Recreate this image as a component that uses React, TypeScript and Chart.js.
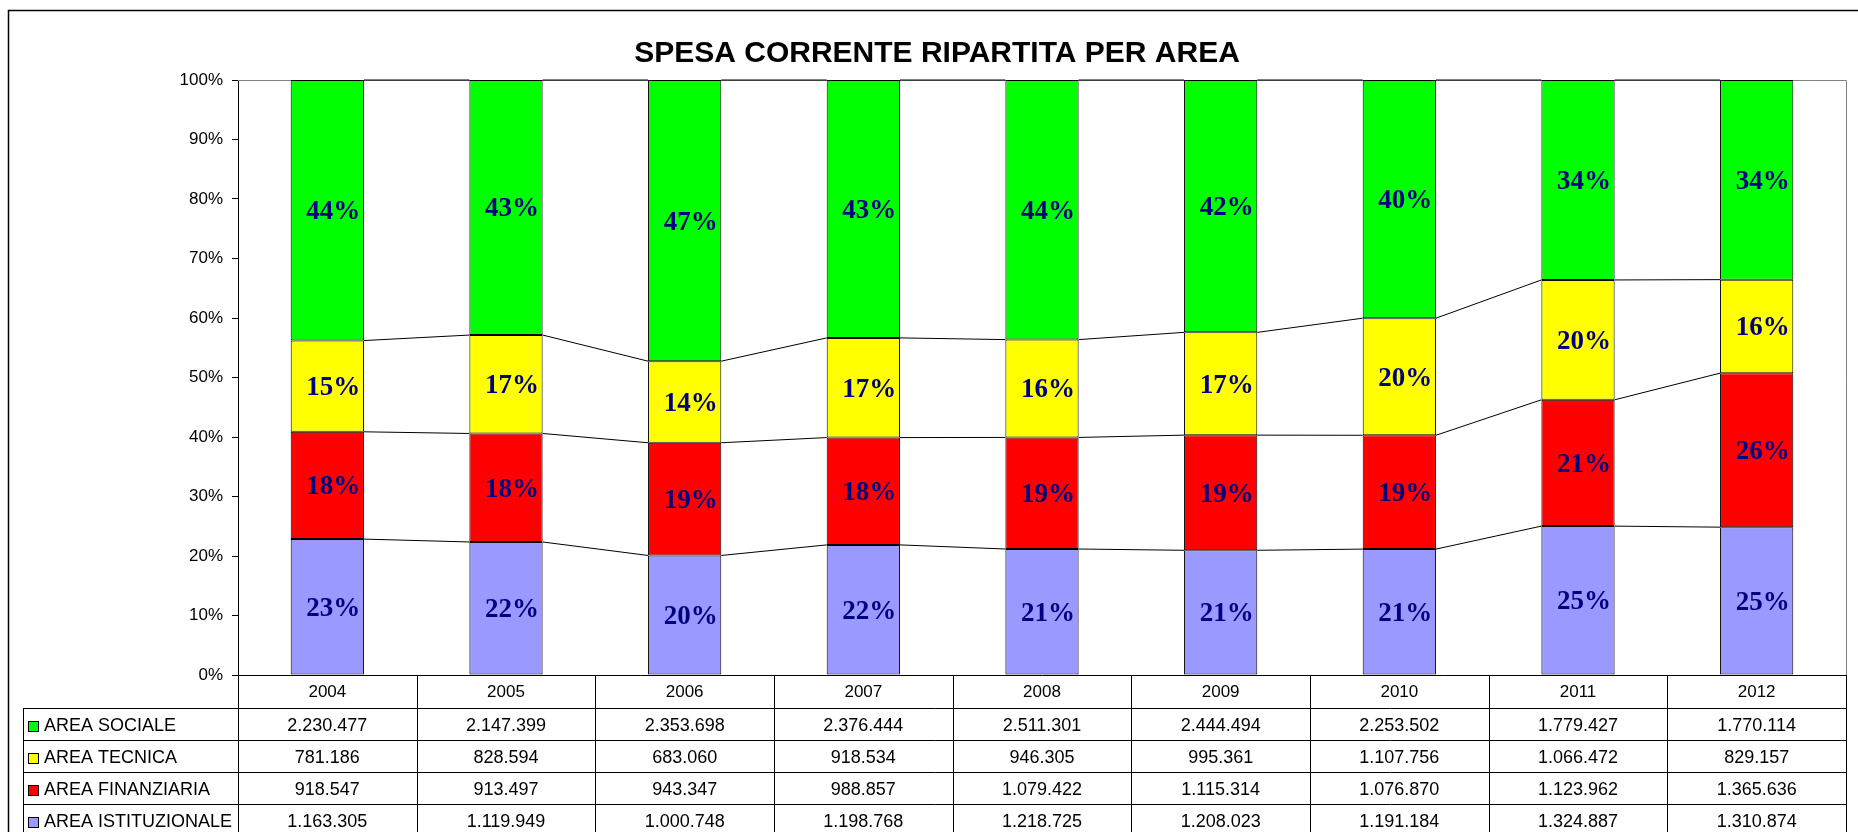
import { useEffect, useRef } from "react";
import { Chart, registerables } from "chart.js";

Chart.register(...registerables);

const TITLE = "SPESA CORRENTE RIPARTITA PER AREA";
const YEARS = ["2004", "2005", "2006", "2007", "2008", "2009", "2010", "2011", "2012"];
const SOCIALE = [2230477, 2147399, 2353698, 2376444, 2511301, 2444494, 2253502, 1779427, 1770114];
const TECNICA = [781186, 828594, 683060, 918534, 946305, 995361, 1107756, 1066472, 829157];
const FINANZIARIA = [918547, 913497, 943347, 988857, 1079422, 1115314, 1076870, 1123962, 1365636];
const ISTITUZIONALE = [1163305, 1119949, 1000748, 1198768, 1218725, 1208023, 1191184, 1324887, 1310874];
const SERIES_NAMES = ["AREA ISTITUZIONALE", "AREA FINANZIARIA", "AREA TECNICA", "AREA SOCIALE"];
const SERIES_COLORS = ["#9999FF", "#FF0000", "#FFFF00", "#00FF00"];
const SERIES_VALUES = [ISTITUZIONALE, FINANZIARIA, TECNICA, SOCIALE];

const SANS = "'Liberation Sans', Arial, sans-serif";
const SERIF = "'Liberation Serif', 'Times New Roman', serif";

const TOTALS = YEARS.map((_, j) => SERIES_VALUES.reduce((s, arr) => s + arr[j], 0));
const PERCENTS = SERIES_VALUES.map((arr) => arr.map((v, j) => (v / TOTALS[j]) * 100));

const fmt = (v: number) => String(v).replace(/\B(?=(\d{3})+(?!\d))/g, ".");

const HEADER_H = 33;
const ROW_H = 32;
const LEGEND_LEFT = 23;

const excelPlugin = {
  id: "excelExtras",
  beforeDatasetsDraw(chart: any) {
    const { ctx, chartArea: a } = chart;
    ctx.save();
    ctx.strokeStyle = "#808080";
    ctx.lineWidth = 1;
    ctx.beginPath();
    ctx.moveTo(a.left, Math.round(a.top) + 0.5);
    ctx.lineTo(Math.round(a.right) + 0.5, Math.round(a.top) + 0.5);
    ctx.lineTo(Math.round(a.right) + 0.5, a.bottom);
    ctx.stroke();
    ctx.restore();
  },
  afterDatasetsDraw(chart: any) {
    const { ctx } = chart;
    ctx.save();
    // series lines
    ctx.strokeStyle = "#000";
    ctx.lineWidth = 1;
    chart.data.datasets.forEach((_: any, d: number) => {
      const meta = chart.getDatasetMeta(d);
      for (let j = 0; j < meta.data.length - 1; j++) {
        const p = meta.data[j].getProps(["x", "y", "width"], true);
        const q = meta.data[j + 1].getProps(["x", "y", "width"], true);
        ctx.beginPath();
        ctx.moveTo(p.x + p.width / 2, p.y);
        ctx.lineTo(q.x - q.width / 2, q.y);
        ctx.stroke();
      }
    });
    // data labels
    ctx.fillStyle = "#000080";
    ctx.font = `bold 27px ${SERIF}`;
    ctx.textAlign = "center";
    ctx.textBaseline = "middle";
    chart.data.datasets.forEach((ds: any, d: number) => {
      const meta = chart.getDatasetMeta(d);
      meta.data.forEach((bar: any, j: number) => {
        const p = bar.getProps(["x", "y", "base"], true);
        const txt = Math.round(ds.data[j]) + "%";
        ctx.fillText(txt, p.x + 6, (p.y + p.base) / 2 + 2);
      });
    });
    ctx.restore();
  },
  afterDraw(chart: any) {
    const { ctx, chartArea: a, scales } = chart;
    const xs = scales.x;
    const n = YEARS.length;
    const colW = (a.right - a.left) / n;
    const top = Math.round(a.bottom);
    const headBottom = top + HEADER_H;
    const tableBottom = headBottom + ROW_H * 4;
    const R = Math.round(a.right) + 0.5;
    ctx.save();
    ctx.strokeStyle = "#000";
    ctx.lineWidth = 1;
    ctx.beginPath();
    for (let k = 0; k <= n; k++) {
      const x = Math.round(a.left + k * colW) + 0.5;
      ctx.moveTo(x, top);
      ctx.lineTo(x, tableBottom);
    }
    ctx.moveTo(LEGEND_LEFT + 0.5, headBottom);
    ctx.lineTo(LEGEND_LEFT + 0.5, tableBottom);
    for (let i = 0; i <= 4; i++) {
      const y = headBottom + i * ROW_H + 0.5;
      ctx.moveTo(LEGEND_LEFT, y);
      ctx.lineTo(R, y);
    }
    ctx.stroke();

    ctx.fillStyle = "#000";
    ctx.textAlign = "center";
    ctx.textBaseline = "middle";
    ctx.font = `17px ${SANS}`;
    YEARS.forEach((yr, j) => {
      ctx.fillText(yr, xs.getPixelForValue(j), top + HEADER_H / 2 + 1);
    });
    ctx.font = `18px ${SANS}`;
    for (let r = 0; r < 4; r++) {
      const s = 3 - r;
      const cy = headBottom + r * ROW_H + ROW_H / 2 + 2;
      ctx.fillStyle = SERIES_COLORS[s];
      ctx.fillRect(28, cy - 5, 11, 11);
      ctx.strokeStyle = "#000";
      ctx.strokeRect(28.5, cy - 4.5, 10, 10);
      ctx.fillStyle = "#000";
      ctx.textAlign = "left";
      ctx.fillText(SERIES_NAMES[s], 44, cy);
      ctx.textAlign = "center";
      SERIES_VALUES[s].forEach((v, j) => {
        ctx.fillText(fmt(v), xs.getPixelForValue(j), cy);
      });
    }
    ctx.strokeStyle = "#000";
    ctx.lineWidth = 1.5;
    ctx.beginPath();
    ctx.moveTo(8.5, chart.height);
    ctx.lineTo(8.5, 10.5);
    ctx.lineTo(chart.width, 10.5);
    ctx.stroke();
    ctx.restore();
  },
};

export default function App() {
  const ref = useRef<HTMLCanvasElement | null>(null);
  useEffect(() => {
    if (!ref.current) return;
    const chart = new Chart(ref.current, {
      type: "bar",
      data: {
        labels: YEARS,
        datasets: SERIES_NAMES.map((name, i) => ({
          label: name,
          data: PERCENTS[i],
          backgroundColor: SERIES_COLORS[i],
          borderColor: "#000",
          borderWidth: 1,
          borderSkipped: false,
          categoryPercentage: 1,
          barPercentage: 0.41,
        })),
      },
      options: {
        responsive: false,
        animation: false,
        layout: { padding: { left: 28, right: 12, top: 0, bottom: 157 } },
        plugins: {
          legend: { display: false },
          tooltip: { enabled: false },
          title: {
            display: true,
            text: TITLE,
            color: "#000",
            font: { family: SANS, size: 30, weight: "bold" },
            padding: { top: 36, bottom: 8 },
          },
        },
        scales: {
          x: {
            stacked: true,
            grid: { display: false },
            ticks: { display: false },
            border: { display: true, color: "#000", width: 1 },
            afterFit: (s: any) => {
              s.height = 0;
            },
          },
          y: {
            stacked: true,
            min: 0,
            max: 100,
            ticks: {
              stepSize: 10,
              callback: (v: any) => v + "%",
              color: "#000",
              font: { family: SANS, size: 17 },
              padding: 9,
            },
            grid: { drawOnChartArea: false, drawTicks: true, tickLength: 6, color: "#000" },
            border: { display: true, color: "#000", width: 1 },
            afterFit: (s: any) => {
              s.width = 210;
            },
          },
        },
      },
      plugins: [excelPlugin],
    } as any);
    return () => chart.destroy();
  }, []);
  return (
    <div style={{ position: "fixed", left: 0, top: 0, width: 1858, height: 832, background: "#fff" }}>
      <canvas ref={ref} width={1858} height={832} style={{ display: "block", width: 1858, height: 832 }} />
    </div>
  );
}
